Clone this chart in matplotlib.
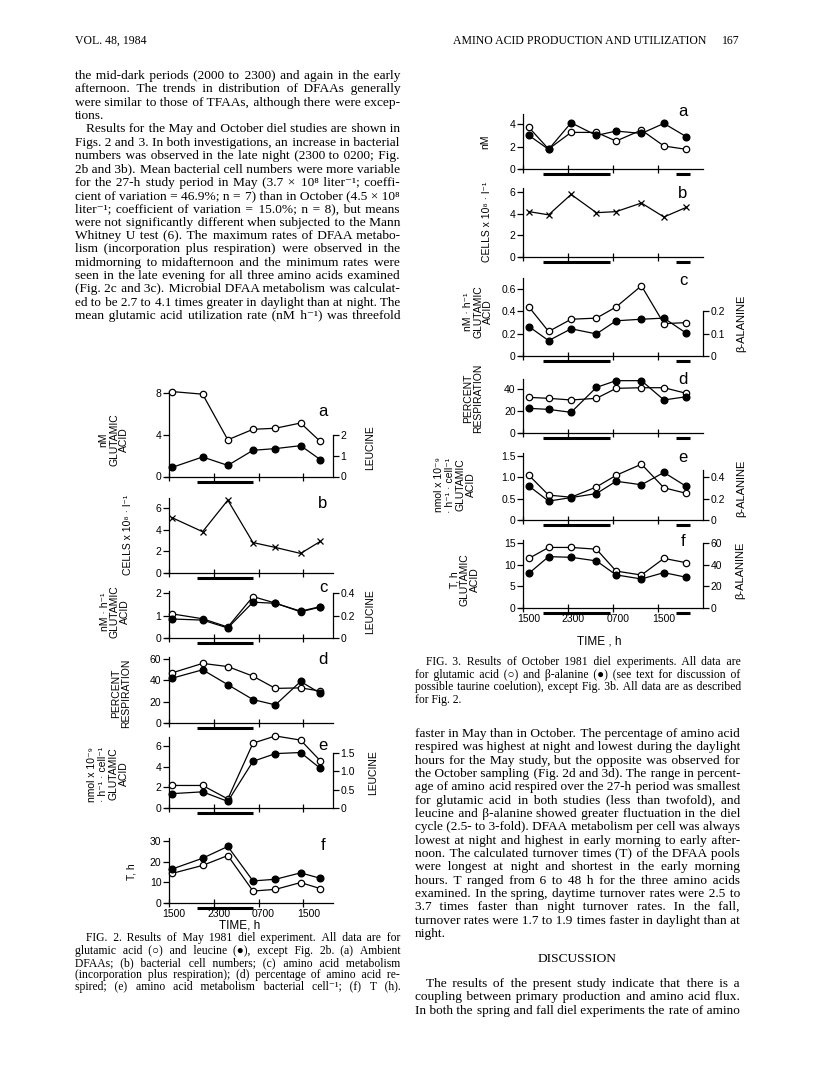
import matplotlib
matplotlib.use('Agg')
import matplotlib.pyplot as plt
import matplotlib.transforms as mtransforms
from matplotlib.font_manager import FontProperties

W, H = 816, 1078
SERIF = ['Liberation Serif', 'DejaVu Serif']
SANS = ['Liberation Sans', 'DejaVu Sans']
plt.rcParams['font.family'] = SANS
plt.rcParams['axes.linewidth'] = 0.9

# ---- data, Fig. 2 (May 1981) ----
may_hours = [0.5, 6, 10.5, 15, 19, 23.5, 27]
may_night = [(5, 15)]
may_glu_nM = [8.1, 7.85, 3.5, 4.5, 4.6, 5.1, 3.35]
may_leu_nM = [0.43, 0.93, 0.53, 1.25, 1.33, 1.47, 0.81]
may_cells = [5.1, 3.8, 6.7, 2.8, 2.35, 1.8, 2.9]
may_glu_rate = [1.08, 0.86, 0.49, 1.85, 1.56, 1.17, 1.38]
may_leu_rate = [0.17, 0.16, 0.09, 0.32, 0.31, 0.24, 0.28]
may_glu_resp = [47, 56, 53, 44, 32.5, 33, 30]
may_leu_resp = [42, 50, 36, 22, 17, 39, 28]
may_glu_cell = [2.19, 2.19, 0.88, 6.3, 7.0, 6.6, 4.6]
may_leu_cell = [0.39, 0.44, 0.18, 1.27, 1.48, 1.51, 1.08]
may_glu_T = [14.3, 18.2, 23, 5.8, 6.6, 9.9, 7]
may_leu_T = [16.4, 21.7, 27.4, 10.7, 11.5, 14.6, 12]

# ---- data, Fig. 3 (October 1981) ----
oct_hours = [1, 4.5, 8.5, 13, 16.5, 21, 25, 29]
oct_night = [(3.5, 15.5), (27.2, 29.7)]
oct_glu_nM = [3.7, 1.78, 3.26, 3.26, 2.49, 3.47, 2.05, 1.75]
oct_ala_nM = [2.99, 1.75, 4.12, 2.99, 3.38, 3.17, 4.06, 2.87]
oct_cells = [4.2, 3.9, 5.8, 4.1, 4.2, 5.0, 3.7, 4.6]
oct_glu_rate = [0.44, 0.22, 0.33, 0.34, 0.44, 0.63, 0.29, 0.30]
oct_ala_rate = [0.132, 0.069, 0.122, 0.099, 0.158, 0.165, 0.17, 0.102]
oct_glu_resp = [32.6, 31.7, 30.2, 31.7, 40.9, 41.5, 41.5, 36.3]
oct_ala_resp = [22.5, 21.5, 18.8, 41.8, 48, 48, 30.2, 33.2]
oct_glu_cell = [1.04, 0.58, 0.53, 0.77, 1.04, 1.3, 0.75, 0.62]
oct_ala_cell = [0.316, 0.176, 0.209, 0.246, 0.361, 0.328, 0.443, 0.312]
oct_glu_T = [11.4, 13.9, 13.9, 13.5, 8.5, 7.6, 11.4, 10.4]
oct_ala_T = [32, 47.2, 46.6, 43.3, 30.5, 26.8, 32.6, 28.3]

time_ticks = [0, 8, 16, 24]
time_labels = ['1500', '2300', '0700', '1500']

fig = plt.figure(figsize=(W / 100, H / 100), dpi=100)


def fx(x):
    return x / W


def fy(y):
    return 1 - y / H


def panel(xs, sc, xr, ybot, ytop, ymax, yticks, ylabels, night, xlab=False):
    xmin = -0.7
    left = xs + xmin * sc
    ax = fig.add_axes([fx(left), fy(ybot), (xr - left) / W, (ybot - ytop) / H])
    ax.patch.set_visible(False)
    ax.set_xlim(xmin, (xr - xs) / sc)
    ax.set_ylim(0, ymax)
    ax.spines['top'].set_visible(False)
    ax.spines['right'].set_visible(False)
    ax.spines['left'].set_position(('data', 0))
    ax.set_yticks(yticks)
    ax.set_yticklabels(ylabels)
    ax.set_xticks(time_ticks)
    ax.set_xticklabels(time_labels if xlab else [])
    ax.tick_params(axis='y', direction='out', length=4, width=0.9, labelsize=7.5, pad=1.5)
    ax.tick_params(axis='x', direction='inout', length=6, width=0.9, labelsize=7.5, pad=1)
    if xlab:
        shift = mtransforms.ScaledTranslation(0.05, 0, fig.dpi_scale_trans)
        for lab in ax.get_xticklabels():
            lab.set_transform(lab.get_transform() + shift)
    trans = mtransforms.blended_transform_factory(ax.transData, ax.transAxes)
    off = -5.0 / (ybot - ytop)
    for a, b in night:
        ax.plot([a, b], [off, off], transform=trans, color='k', lw=2.2,
                solid_capstyle='butt', clip_on=False)
    return ax


def right_axis(ax, ratio, ticks, labels, top):
    ax2 = ax.twinx()
    lo, hi = ax.get_ylim()
    ax2.set_ylim(0, hi * ratio)
    for s in ['top', 'left', 'bottom']:
        ax2.spines[s].set_visible(False)
    ax2.spines['right'].set_bounds(0, top)
    ax2.set_yticks(ticks)
    ax2.set_yticklabels(labels)
    ax2.tick_params(axis='y', direction='out', length=4, width=0.9, labelsize=7.5, pad=1.5)
    return ax2


def open_line(ax, x, y):
    ax.plot(x, y, '-o', color='k', lw=0.9, ms=4.6, mfc='white', mec='k', mew=0.9,
            clip_on=False, zorder=3)


def filled_line(ax, x, y):
    ax.plot(x, y, '-o', color='k', lw=0.9, ms=4.8, mfc='k', mec='k',
            clip_on=False, zorder=4)


def cross_line(ax, x, y):
    ax.plot(x, y, '-x', color='k', lw=0.9, ms=5, mew=0.9, clip_on=False)


def vlabel(x, y, s, size=7.5):
    fig.text(fx(x), fy(y), s, rotation=90, ha='center', va='center',
             multialignment='center', fontsize=size, linespacing=1.05)


def letter(x, y, s):
    fig.text(fx(x), fy(y), s, ha='center', va='center', fontsize=12)


# ---------------- Fig. 2 ----------------
X2, S2, R2 = 169, 5.6, 333

a = panel(X2, S2, R2, 476.5, 390.5, 8.2, [0, 4, 8], ['0', '4', '8'], may_night)
open_line(a, may_hours, may_glu_nM)
a2 = right_axis(a, 0.5, [0, 1, 2], ['0', '1', '2'], 2)
filled_line(a2, may_hours, may_leu_nM)

b = panel(X2, S2, R2, 573, 498, 6.9, [0, 2, 4, 6], ['0', '2', '4', '6'], may_night)
cross_line(b, may_hours, may_cells)

c = panel(X2, S2, R2, 638, 591, 2.1, [0, 1, 2], ['0', '1', '2'], may_night)
open_line(c, may_hours, may_glu_rate)
c2 = right_axis(c, 0.2, [0, 0.2, 0.4], ['0', '0.2', '0.4'], 0.4)
filled_line(c2, may_hours, may_leu_rate)

d = panel(X2, S2, R2, 723, 657, 62, [0, 20, 40, 60], ['0', '20', '40', '60'], may_night)
filled_line(d, may_hours, may_leu_resp)
open_line(d, may_hours, may_glu_resp)

e = panel(X2, S2, R2, 808, 737, 6.9, [0, 2, 4, 6], ['0', '2', '4', '6'], may_night)
open_line(e, may_hours, may_glu_cell)
e2 = right_axis(e, 0.28, [0, 0.5, 1.0, 1.5], ['0', '0.5', '1.0', '1.5'], 1.5)
filled_line(e2, may_hours, may_leu_cell)

f = panel(X2, S2, R2, 903, 838, 31.5, [0, 10, 20, 30], ['0', '10', '20', '30'],
          may_night, xlab=True)
filled_line(f, may_hours, may_leu_T)
open_line(f, may_hours, may_glu_T)

vlabel(114, 440, 'nM\nGLUTAMIC\nACID')
vlabel(128, 535, 'CELLS x 10⁸ · l⁻¹')
vlabel(115, 612, 'nM · h⁻¹\nGLUTAMIC\nACID')
vlabel(121, 693, 'PERCENT\nRESPIRATION')
vlabel(108, 774, 'nmol x 10⁻⁹\n· h⁻¹ · cell⁻¹\nGLUTAMIC\nACID')
vlabel(132, 872, 'T, h')
vlabel(370, 448, 'LEUCINE')
vlabel(370, 612, 'LEUCINE')
vlabel(373, 773, 'LEUCINE')
for s, y in zip('abcdef', [412, 503, 588, 659, 745, 846]):
    letter(323, y, s)
fig.text(fx(240), fy(925), 'TIME, h', ha='center', va='center', fontsize=8.5)

# ---------------- Fig. 3 ----------------
X3, S3, R3 = 523.3, 5.625, 703

a = panel(X3, S3, R3, 169, 114, 4.9, [0, 2, 4], ['0', '2', '4'], oct_night)
filled_line(a, oct_hours, oct_ala_nM)
open_line(a, oct_hours, oct_glu_nM)

b = panel(X3, S3, R3, 256.7, 188, 6.4, [0, 2, 4, 6], ['0', '2', '4', '6'], oct_night)
cross_line(b, oct_hours, oct_cells)

c = panel(X3, S3, R3, 356, 278, 0.7, [0, 0.2, 0.4, 0.6], ['0', '0.2', '0.4', '0.6'], oct_night)
open_line(c, oct_hours, oct_glu_rate)
c2 = right_axis(c, 0.5, [0, 0.1, 0.2], ['0', '0.1', '0.2'], 0.2)
filled_line(c2, oct_hours, oct_ala_rate)

d = panel(X3, S3, R3, 432.7, 378.5, 50, [0, 20, 40], ['0', '20', '40'], oct_night)
filled_line(d, oct_hours, oct_ala_resp)
open_line(d, oct_hours, oct_glu_resp)

e = panel(X3, S3, R3, 520, 453, 1.56, [0, 0.5, 1.0, 1.5], ['0', '0.5', '1.0', '1.5'], oct_night)
open_line(e, oct_hours, oct_glu_cell)
e2 = right_axis(e, 0.4, [0, 0.2, 0.4], ['0', '0.2', '0.4'], 0.47)
filled_line(e2, oct_hours, oct_ala_cell)

f = panel(X3, S3, R3, 608.3, 540, 15.6, [0, 5, 10, 15], ['0', '5', '10', '15'],
          oct_night, xlab=True)
open_line(f, oct_hours, oct_glu_T)
f2 = right_axis(f, 4, [0, 20, 40, 60], ['0', '20', '40', '60'], 60)
filled_line(f2, oct_hours, oct_ala_T)

vlabel(485, 142, 'nM')
vlabel(487, 222, 'CELLS x 10⁸ · l⁻¹')
vlabel(478, 312, 'nM · h⁻¹\nGLUTAMIC\nACID')
vlabel(473, 398, 'PERCENT\nRESPIRATION')
vlabel(455, 485, 'nmol x 10⁻⁹\n· h⁻¹ · cell⁻¹\nGLUTAMIC\nACID')
vlabel(465, 580, 'T, h\nGLUTAMIC\nACID')
vlabel(741, 323, 'β-ALANINE', 8)
vlabel(741, 488, 'β-ALANINE', 8)
vlabel(740, 570, 'β-ALANINE', 8)
for s, y in zip('abcdef', [112, 193, 281, 379, 458, 542]):
    letter(683, y, s)
fig.text(fx(599), fy(642), 'TIME , h', ha='center', va='center', fontsize=8.5)

# ---------------- page text ----------------
renderer = fig.canvas.get_renderer()
HAIR = '\u200a'


def text_w(s, prop):
    w, h, dsc = renderer.get_text_width_height_descent(s, prop, ismath=False)
    return w


def text_line(x0, x1, y, s, size):
    # one text object per line; justified by padding the gaps with hair spaces
    indent = 0
    if s.startswith('\t'):
        s = s[1:]
        indent = 11
    target = x1 - x0 - indent
    prop = FontProperties(family=SERIF, size=size)
    natural = text_w(s, prop)
    if natural > target:
        prop = FontProperties(family=SERIF, size=size * target / natural)
        natural = text_w(s, prop)
    words = s.split(' ')
    out = s
    if len(words) > 1 and natural > 0.6 * target:
        hair = text_w('a' + HAIR * 10 + 'a', prop) - text_w('aa', prop)
        hair = max(hair / 10, 0.3)
        total = max(0, int(round((target - natural) / hair)))
        gaps = len(words) - 1
        out = words[0]
        done = 0
        for i in range(1, len(words)):
            want = int(round(total * i / gaps))
            out += ' ' + HAIR * (want - done) + words[i]
            done = want
    fig.text(fx(x0 + indent), fy(y), out, fontproperties=prop, va='baseline', ha='left')


left_lines = [
    "the mid-dark periods (2000 to 2300) and again in the early",
    "afternoon. The trends in distribution of DFAAs generally",
    "were similar to those of TFAAs, although there were excep-",
    "tions.",
    "\tResults for the May and October diel studies are shown in",
    "Figs. 2 and 3. In both investigations, an increase in bacterial",
    "numbers was observed in the late night (2300 to 0200; Fig.",
    "2b and 3b). Mean bacterial cell numbers were more variable",
    "for the 27-h study period in May (3.7 × 10⁸ liter⁻¹; coeffi-",
    "cient of variation = 46.9%; n = 7) than in October (4.5 × 10⁸",
    "liter⁻¹; coefficient of variation = 15.0%; n = 8), but means",
    "were not significantly different when subjected to the Mann",
    "Whitney U test (6). The maximum rates of DFAA metabo-",
    "lism (incorporation plus respiration) were observed in the",
    "midmorning to midafternoon and the minimum rates were",
    "seen in the late evening for all three amino acids examined",
    "(Fig. 2c and 3c). Microbial DFAA metabolism was calculat-",
    "ed to be 2.7 to 4.1 times greater in daylight than at night. The",
    "mean glutamic acid utilization rate (nM h⁻¹) was threefold",
]
fig2_caption = [
    "\tFIG. 2. Results of May 1981 diel experiment. All data are for",
    "glutamic acid (○) and leucine (●), except Fig. 2b. (a) Ambient",
    "DFAAs; (b) bacterial cell numbers; (c) amino acid metabolism",
    "(incorporation plus respiration); (d) percentage of amino acid re-",
    "spired; (e) amino acid metabolism bacterial cell⁻¹; (f) T (h).",
]
fig3_caption = [
    "\tFIG. 3. Results of October 1981 diel experiments. All data are",
    "for glutamic acid (○) and β-alanine (●) (see text for discussion of",
    "possible taurine coelution), except Fig. 3b. All data are as described",
    "for Fig. 2.",
]
right_lines = [
    "faster in May than in October. The percentage of amino acid",
    "respired was highest at night and lowest during the daylight",
    "hours for the May study, but the opposite was observed for",
    "the October sampling (Fig. 2d and 3d). The range in percent-",
    "age of amino acid respired over the 27-h period was smallest",
    "for glutamic acid in both studies (less than twofold), and",
    "leucine and β-alanine showed greater fluctuation in the diel",
    "cycle (2.5- to 3-fold). DFAA metabolism per cell was always",
    "lowest at night and highest in early morning to early after-",
    "noon. The calculated turnover times (T) of the DFAA pools",
    "were longest at night and shortest in the early morning",
    "hours. T ranged from 6 to 48 h for the three amino acids",
    "examined. In the spring, daytime turnover rates were 2.5 to",
    "3.7 times faster than night turnover rates. In the fall,",
    "turnover rates were 1.7 to 1.9 times faster in daylight than at",
    "night.",
]
discussion_lines = [
    "\tThe results of the present study indicate that there is a",
    "coupling between primary production and amino acid flux.",
    "In both the spring and fall diel experiments the rate of amino",
]

for i, s in enumerate(left_lines):
    text_line(75, 400, 79 + 13.33 * i, s, 9.6)
for i, s in enumerate(fig2_caption):
    text_line(75, 400, 941.5 + 12.2 * i, s, 8.4)
for i, s in enumerate(fig3_caption):
    text_line(415, 740, 665.5 + 12.4 * i, s, 8.4)
for i, s in enumerate(right_lines):
    text_line(415, 740, 737 + 13.33 * i, s, 9.6)
for i, s in enumerate(discussion_lines):
    text_line(415, 740, 987 + 13.33 * i, s, 9.6)

fig.text(fx(577), fy(962), 'DISCUSSION', family='Liberation Serif', fontsize=9.6,
         ha='center', va='baseline')
fig.text(fx(75), fy(44), 'VOL. 48, 1984', family='Liberation Serif', fontsize=8.5,
         ha='left', va='baseline')
fig.text(fx(706), fy(44), 'AMINO ACID PRODUCTION AND UTILIZATION',
         family='Liberation Serif', fontsize=8.5, ha='right', va='baseline')
fig.text(fx(740), fy(44), '167', family='Liberation Serif', fontsize=8.5,
         ha='right', va='baseline')

fig.savefig('out.png', dpi=100)
